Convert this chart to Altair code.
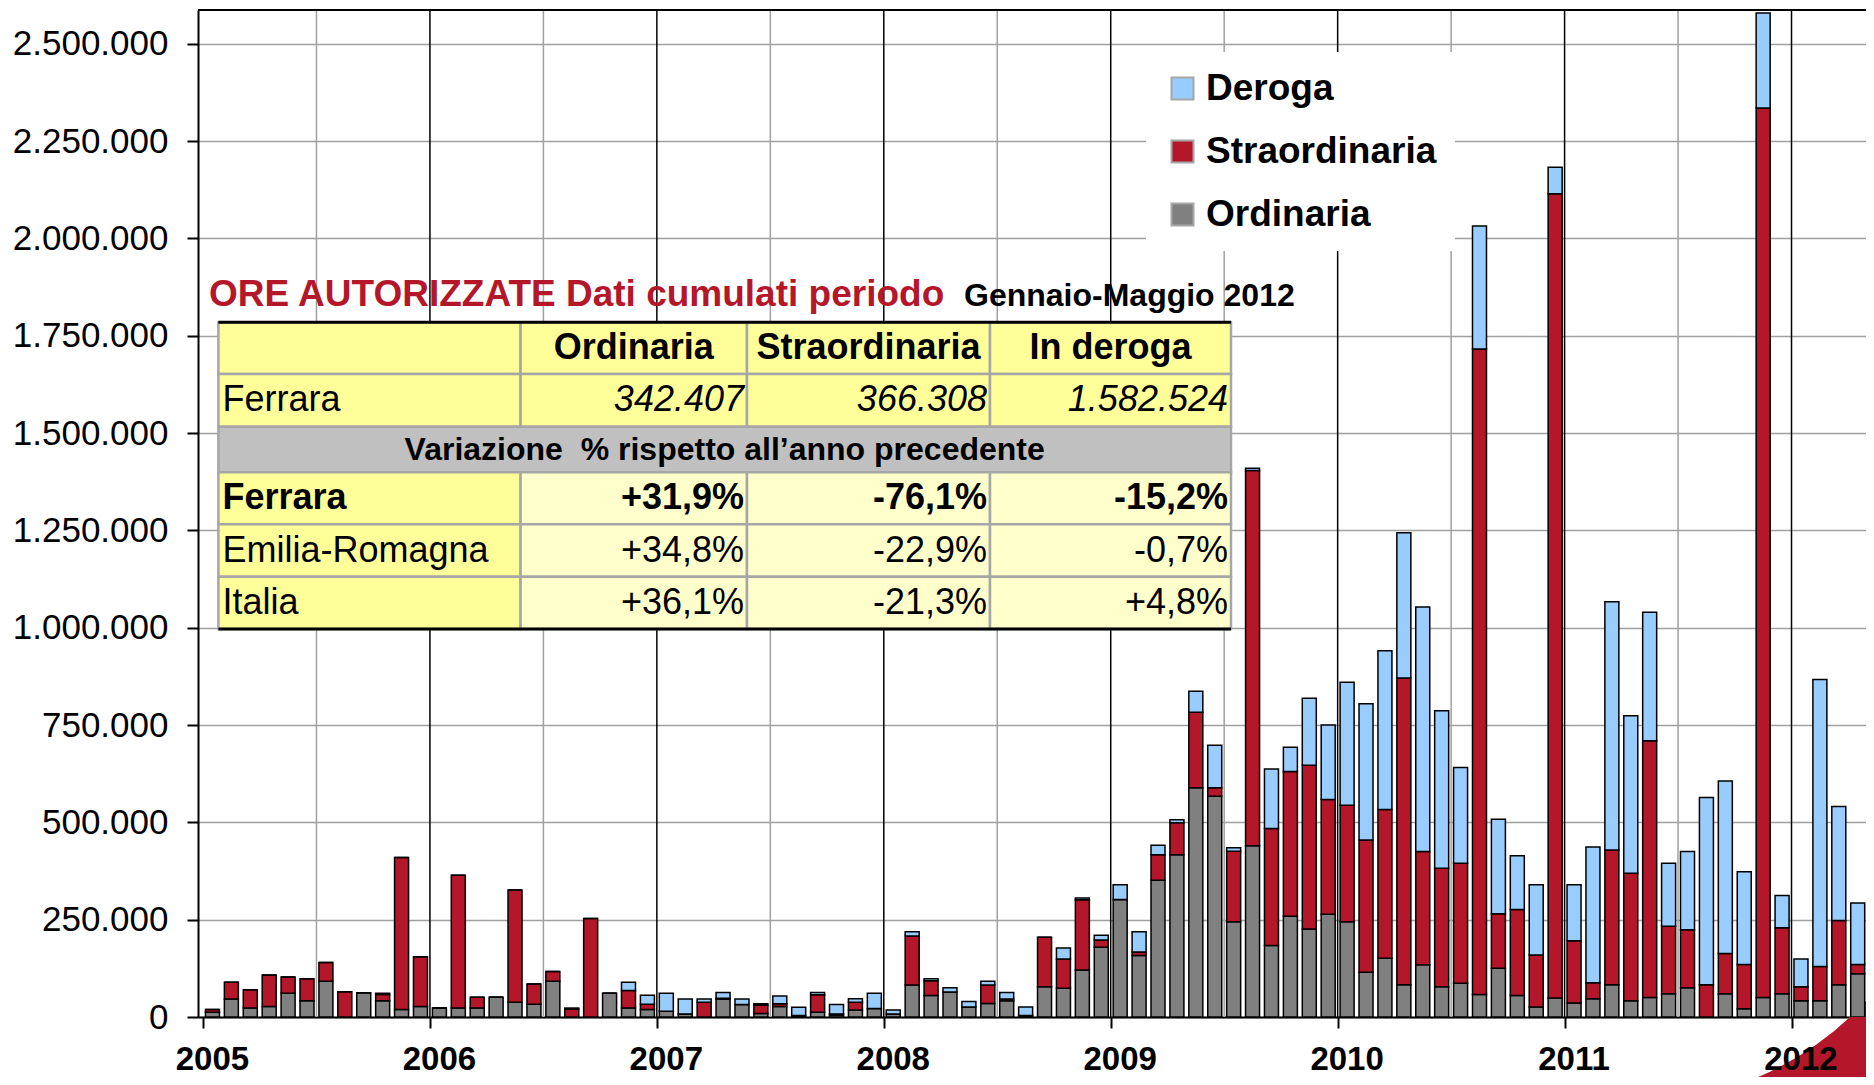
import altair as alt
import pandas as pd

# ---------------- data (thousands of authorised hours, monthly Jan 2005 - May 2012) ----------------
start_year = 2005
year_labels = [2005, 2006, 2007, 2008, 2009, 2010, 2011, 2012]

ordinaria = [12, 46, 23, 27, 61, 42, 92, 0, 62, 42, 19, 27,
             23, 23, 23, 51, 38, 33, 92, 0, 0, 61, 23, 19,
             15, 8, 0, 46, 32, 9, 27, 4, 12, 5, 18, 22,
             8, 82, 55, 64, 26, 35, 42, 4, 78, 74, 121, 179,
             302, 158, 351, 417, 589, 567, 245, 440, 184, 259, 226, 264,
             245, 115, 151, 83, 134, 78, 87, 58, 125, 55, 26, 49,
             36, 47, 83, 42, 50, 60, 75, 0, 60, 21, 50, 60,
             42, 42, 83, 111, 64]
straordinaria = [7, 43, 47, 81, 42, 56, 48, 65, 0, 16, 391, 128,
                 0, 341, 28, 0, 288, 52, 25, 20, 253, 0, 45, 14,
                 0, 0, 38, 2, 0, 21, 7, 0, 45, 3, 20, 0,
                 0, 126, 38, 0, 0, 47, 4, 0, 127, 75, 180, 19,
                 0, 9, 66, 82, 194, 22, 181, 964, 300, 372, 421, 295,
                 299, 340, 382, 788, 291, 304, 308, 1658, 140, 221, 133, 2066,
                 160, 41, 346, 327, 660, 173, 149, 83, 103, 114, 2285, 169,
                 36, 88, 165, 24, 53]
deroga = [0, 0, 0, 0, 0, 0, 0, 0, 0, 3, 0, 0,
          0, 0, 0, 0, 0, 0, 0, 3, 0, 0, 21, 23,
          46, 38, 8, 15, 14, 4, 20, 21, 6, 24, 9, 39,
          10, 11, 5, 11, 14, 10, 17, 22, 0, 28, 5, 12,
          38, 52, 24, 8, 54, 109, 9, 6, 153, 62, 172, 191,
          316, 350, 408, 373, 628, 405, 246, 316, 243, 138, 181, 68,
          144, 349, 638, 405, 330, 162, 201, 481, 443, 238, 244, 83,
          71, 737, 293, 158, 324]

series_names = ["Ordinaria", "Straordinaria", "Deroga"]
legend_order = ["Deroga", "Straordinaria", "Ordinaria"]
legend_colors = ["#99CCFF", "#B5172A", "#808080"]
y_ticks = [0, 250000, 500000, 750000, 1000000, 1250000, 1500000, 1750000, 2000000, 2250000, 2500000]

title_red = "ORE AUTORIZZATE Dati cumulati periodo"
title_black = "Gennaio-Maggio 2012"
table_header = ["Ordinaria", "Straordinaria", "In deroga"]
table_first_label = "Ferrara"
table_first_values = ["342.407", "366.308", "1.582.524"]
table_band = "Variazione\u00a0 % rispetto all\u2019anno precedente"
var_labels = ["Ferrara", "Emilia-Romagna", "Italia"]
var_values = [["+31,9%", "-76,1%", "-15,2%"],
              ["+34,8%", "-22,9%", "-0,7%"],
              ["+36,1%", "-21,3%", "+4,8%"]]

# ---------------- layout (pixels) ----------------
FONT = "Liberation Sans"
W, H = 1668, 1007
MONTH_PX = 19.025
XMAX = W / MONTH_PX
YMAX = 2587000
RED = "#B5172A"

# table geometry relative to plot origin
COLS = [20.4, 322.6, 549.0, 792.0, 1033.0]
ROWS = [312.3, 364.0, 416.7, 462.3, 514.3, 566.7, 619.0]
YELLOW = "#FFFF99"
PALE = "#FFFFCC"
GREYROW = "#C0C0C0"

# ---------------- build tables ----------------
rows = []
for i in range(len(ordinaria)):
    for k, (name, vals) in enumerate(zip(series_names, [ordinaria, straordinaria, deroga])):
        rows.append({"mc": i + 0.5, "series": name, "value": vals[i] * 1000, "stack": k})
df = pd.DataFrame(rows)

vl = []
for k in range(1, len(year_labels)):
    vl.append({"pos": 12 * k, "col": "#000000"})
for k in range(len(year_labels)):
    vl.append({"pos": 6 + 12 * k, "col": "#A0A0A0"})
vdf = pd.DataFrame(vl)

ydf = pd.DataFrame({"year": [str(y) for y in year_labels],
                    "jan": [(y - start_year) * 12 + 0.5 for y in year_labels]})

xscale = alt.Scale(domain=[0, XMAX], nice=False, zero=False)
yscale = alt.Scale(domain=[0, YMAX], nice=False)
x_axis = alt.Axis(values=[12 * k for k in range(len(year_labels))],
                  orient="bottom", labels=False,
                  tickSize=11, tickWidth=2, tickColor="black",
                  domainColor="black", domainWidth=2, grid=False,
                  title=None)

# swoosh decoration
swoosh = alt.Chart(pd.DataFrame({"a": [0]})).mark_arc(
    theta=2.0, theta2=3.05, radius=480, radius2=312, color=RED
).encode(x=alt.value(1438), y=alt.value(780))

vlines = alt.Chart(vdf).mark_rule(strokeWidth=1.5, clip=True).encode(
    x=alt.X("pos:Q", scale=xscale, axis=x_axis),
    color=alt.Color("col:N", scale=None),
)

bars = alt.Chart(df).mark_bar(width=14, stroke="black", strokeWidth=1.5, clip=True).encode(
    x=alt.X("mc:Q", scale=xscale, axis=x_axis),
    y=alt.Y("value:Q", stack="zero", scale=yscale,
            axis=alt.Axis(values=y_ticks,
                          labelExpr="replace(format(datum.value, ','), regexp(',', 'g'), '.')",
                          labelFont=FONT, labelFontSize=35, labelColor="black",
                          labelPadding=19, labelFlush=False, labelOverlap=False,
                          tickSize=11, tickWidth=2, tickColor="black",
                          domainColor="black", domainWidth=2,
                          grid=True, gridColor="#A0A0A0", gridWidth=1.5,
                          title=None)),
    color=alt.Color("series:N",
                    scale=alt.Scale(domain=legend_order, range=legend_colors),
                    legend=alt.Legend(orient="none", legendX=948, legendY=42,
                                      fillColor="white", padding=18, title=None,
                                      symbolType="square", symbolSize=484,
                                      symbolStrokeColor="black", symbolStrokeWidth=2,
                                      symbolOpacity=1,
                                      labelFont=FONT, labelFontSize=37, labelFontWeight="bold",
                                      labelColor="black", labelOffset=5, labelLimit=400,
                                      rowPadding=25)),
    order=alt.Order("stack:Q", sort="ascending"),
)

year_text = alt.Chart(ydf).mark_text(
    align="center", baseline="alphabetic", font=FONT, fontSize=33, fontWeight="bold", color="black"
).encode(
    x=alt.X("jan:Q", scale=xscale, axis=x_axis),
    y=alt.value(H + 53),
    text="year:N",
)

top_border = alt.Chart(pd.DataFrame({"a": [0]})).mark_rule(color="black", strokeWidth=2).encode(
    x=alt.value(0), x2=alt.value(W), y=alt.value(0)
)

# table cells
cells = []
for r in range(6):
    if r == 2:
        cells.append({"x0": COLS[0], "x1": COLS[4], "y0": ROWS[2], "y1": ROWS[3], "fill": GREYROW})
        continue
    for c in range(4):
        fill = YELLOW if (r < 2 or c == 0) else PALE
        cells.append({"x0": COLS[c], "x1": COLS[c + 1], "y0": ROWS[r], "y1": ROWS[r + 1], "fill": fill})
cdf = pd.DataFrame(cells)

cell_layer = alt.Chart(cdf).mark_rect(stroke="#A6A6A6", strokeWidth=2.5).encode(
    x=alt.X("x0:Q", scale=None, axis=None), x2="x1:Q",
    y=alt.Y("y0:Q", scale=None, axis=None), y2="y1:Q",
    color=alt.Color("fill:N", scale=None),
)

edges = pd.DataFrame({"yy": [ROWS[0], ROWS[-1]], "xa": [COLS[0], COLS[0]], "xb": [COLS[-1], COLS[-1]]})
edge_layer = alt.Chart(edges).mark_rule(color="black", strokeWidth=3).encode(
    x=alt.X("xa:Q", scale=None, axis=None), x2="xb:Q",
    y=alt.Y("yy:Q", scale=None, axis=None),
)


def rc(r):
    return (ROWS[r] + ROWS[r + 1]) / 2


texts = []
for c, h in enumerate(table_header):
    texts.append({"kind": "head", "tx": (COLS[c + 1] + COLS[c + 2]) / 2, "ty": rc(0), "label": h})
texts.append({"kind": "left", "tx": COLS[0] + 4, "ty": rc(1), "label": table_first_label})
for c, v in enumerate(table_first_values):
    texts.append({"kind": "ital", "tx": COLS[c + 2] - 3, "ty": rc(1), "label": v})
texts.append({"kind": "band", "tx": (COLS[0] + COLS[4]) / 2, "ty": rc(2), "label": table_band})
for j, lab in enumerate(var_labels):
    r = 3 + j
    bold = j == 0
    texts.append({"kind": "leftb" if bold else "left", "tx": COLS[0] + 4, "ty": rc(r), "label": lab})
    for c, v in enumerate(var_values[j]):
        texts.append({"kind": "rightb" if bold else "right", "tx": COLS[c + 2] - 3, "ty": rc(r), "label": v})
texts.append({"kind": "tred", "tx": 11, "ty": 296, "label": title_red})
texts.append({"kind": "tblack", "tx": 766, "ty": 296, "label": title_black})
tdf = pd.DataFrame(texts)


def text_layer(kind, align, weight, style, size, color="black", baseline="middle"):
    return alt.Chart(tdf).transform_filter(alt.datum.kind == kind).mark_text(
        align=align, baseline=baseline, font=FONT, fontSize=size,
        fontWeight=weight, fontStyle=style, color=color
    ).encode(
        x=alt.X("tx:Q", scale=None, axis=None),
        y=alt.Y("ty:Q", scale=None, axis=None),
        text="label:N",
    )


text_layers = [
    text_layer("head", "center", "bold", "normal", 36),
    text_layer("left", "left", "normal", "normal", 36),
    text_layer("ital", "right", "normal", "italic", 36),
    text_layer("band", "center", "bold", "normal", 32),
    text_layer("leftb", "left", "bold", "normal", 36),
    text_layer("rightb", "right", "bold", "normal", 36),
    text_layer("right", "right", "normal", "normal", 36),
    text_layer("tred", "left", "bold", "normal", 37, color=RED, baseline="alphabetic"),
    text_layer("tblack", "left", "bold", "normal", 32, baseline="alphabetic"),
]

chart = alt.layer(
    swoosh, vlines, bars, year_text, top_border, cell_layer, edge_layer, *text_layers
).properties(
    width=W, height=H,
    autosize=alt.AutoSizeParams(type="none"),
    padding={"left": 190, "top": 2, "right": 0, "bottom": 60},
).configure_view(stroke="transparent")

chart.save("out.html", embed_options={"renderer": "svg", "actions": False})
